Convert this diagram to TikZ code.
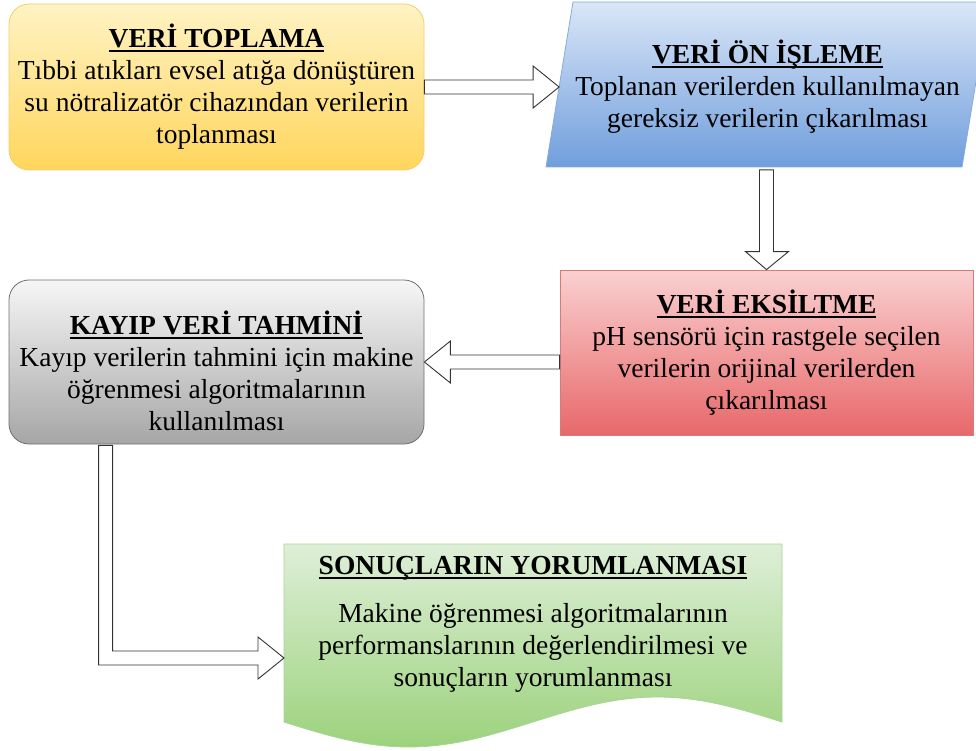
\documentclass[tikz,border=0pt]{standalone}
\usepackage{fontspec}
\setmainfont{Liberation Serif}
\usetikzlibrary{calc}
\definecolor{toplamatop}{RGB}{255,243,196}
\definecolor{toplamabot}{RGB}{255,214,92}
\definecolor{toplamaline}{RGB}{240,208,110}
\definecolor{onislemetop}{RGB}{218,230,247}
\definecolor{onislemebot}{RGB}{112,158,220}
\definecolor{onislemeline}{RGB}{134,170,220}
\definecolor{eksiltmetop}{RGB}{250,208,208}
\definecolor{eksiltmebot}{RGB}{232,104,106}
\definecolor{eksiltmeline}{RGB}{214,122,122}
\definecolor{tahmintop}{RGB}{246,246,246}
\definecolor{tahminbot}{RGB}{166,166,166}
\definecolor{tahminline}{RGB}{112,112,112}
\definecolor{sonuctop}{RGB}{222,239,216}
\definecolor{sonucbot}{RGB}{156,210,124}
\definecolor{sonucline}{RGB}{170,212,148}
\tikzstyle{stage} = [draw, text centered, align=center, inner sep=0pt, line width=0.8pt, font=\fontsize{27.5}{32}\selectfont]
\tikzstyle{roundstage} = [stage, rectangle, rounded corners=20pt]
\tikzstyle{blockarrow} = [draw=black!80, fill=white, line width=0.9pt, line join=miter]
\newcommand{\stagetitle}[1]{\leavevmode\vtop{\hbox{\raisebox{0pt}[\height][0pt]{\textbf{#1}}}\kern2.5pt\hrule height 2pt}}

\begin{document}
\begin{tikzpicture}[x=1pt, y=-1pt]
        \useasboundingbox (0,0) rectangle (976,751);
        \node (toplama) [roundstage, top color=toplamatop, bottom color=toplamabot, draw=toplamaline, minimum width=415, minimum height=166] at (216.5,87) {\stagetitle{VERİ TOPLAMA}\\Tıbbi atıkları evsel atığa dönüştüren\\su nötralizatör cihazından verilerin\\toplanması};
        \shade [top color=onislemetop, bottom color=onislemebot, draw=onislemeline, line width=0.8pt] (546,167) -- (573,2) -- (989,2) -- (962,167) -- cycle;
        \node (onisleme) [stage, draw=none, minimum width=416, minimum height=165] at (767.5,87) {\stagetitle{VERİ ÖN İŞLEME}\\Toplanan verilerden kullanılmayan\\gereksiz verilerin çıkarılması};
        \node (eksiltme) [stage, rectangle, top color=eksiltmetop, bottom color=eksiltmebot, draw=eksiltmeline, minimum width=413, minimum height=165] at (766.5,352.5) {\stagetitle{VERİ EKSİLTME}\\pH sensörü için rastgele seçilen\\verilerin orijinal verilerden\\çıkarılması};
        \node (tahmin) [roundstage, top color=tahmintop, bottom color=tahminbot, draw=tahminline, minimum width=415, minimum height=164] at (216.5,362) {\rule{0pt}{42pt}\stagetitle{KAYIP VERİ TAHMİNİ}\\Kayıp verilerin tahmini için makine\\öğrenmesi algoritmalarının\\kullanılması};
        \shade [top color=sonuctop, bottom color=sonucbot, draw=sonucline, line width=0.8pt] (284,544) -- (782,544) -- (782,722) sin (657.5,697) cos (533,722) sin (408.5,747) cos (284,722) -- cycle;
        \node (sonuc) [stage, draw=none] at (533,624) {\stagetitle{SONUÇLARIN YORUMLANMASI}\\[16pt]Makine öğrenmesi algoritmalarının\\performanslarının değerlendirilmesi ve\\sonuçların yorumlanması};
        \coordinate (sonucin) at (284,658);
        % block arrows between the stages
        \draw [blockarrow] ($(toplama.east)+(0,-7)$) -- ($(onisleme.west |- toplama.east)+(-26,-7)$) -- ++(0,-14) -- (onisleme.west |- toplama.east) -- ($(onisleme.west |- toplama.east)+(-26,21)$) -- ++(0,-14) -- ($(toplama.east)+(0,7)$) -- cycle;
        \draw [blockarrow] ($(onisleme.south -| eksiltme.north)+(-7,0)$) -- ($(eksiltme.north)+(-7,-18)$) -- ++(-14,0) -- (eksiltme.north) -- ($(eksiltme.north)+(22,-18)$) -- ++(-15,0) -- ($(onisleme.south -| eksiltme.north)+(7,0)$) -- cycle;
        \draw [blockarrow] ($(eksiltme.west |- tahmin.east)+(0,-7)$) -- ($(tahmin.east)+(26,-7)$) -- ++(0,-14) -- (tahmin.east) -- ($(tahmin.east)+(26,21)$) -- ++(0,-14) -- ($(eksiltme.west |- tahmin.east)+(0,7)$) -- cycle;
        \draw [blockarrow] ($(tahmin.south west)+(90,1)$) |- ($(sonucin)+(-26,7)$) -- ++(0,14) -- (sonucin) -- ($(sonucin)+(-26,-21)$) -- ++(0,14) -| ($(tahmin.south west)+(104,1)$) -- cycle;
    \end{tikzpicture}
\end{document}
